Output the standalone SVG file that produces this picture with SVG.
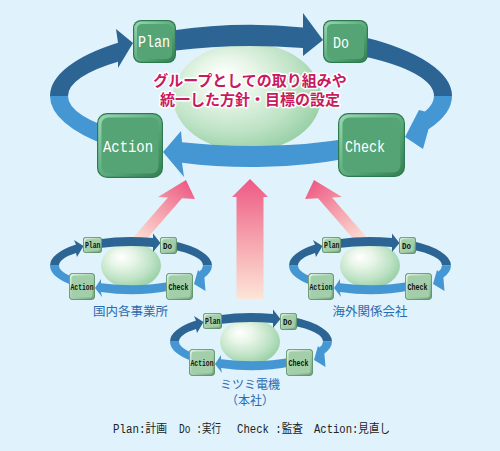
<svg xmlns="http://www.w3.org/2000/svg" width="500" height="451" viewBox="0 0 500 451">
<defs>
<style>
.dk{fill:#2c6594}
.lt{fill:#4597d3}
.bo{fill:#2e7a4f}
.bi{fill:#55a475}
.so{fill:#5d8d67}
.si{fill:#a2cfaa}
.bt{font-family:"Liberation Mono","DejaVu Sans Mono",monospace;font-size:16px;fill:#ffffff}
.st{font-family:"Liberation Mono","DejaVu Sans Mono",monospace;font-size:9.5px;fill:#111111;font-weight:bold}
.goal{font-family:"Noto Sans CJK JP","Noto Sans",sans-serif;font-size:15px;font-weight:bold;fill:#c81a5e;stroke:#ffffff;stroke-width:3;stroke-linejoin:round;paint-order:stroke;text-anchor:middle}
.lab{font-family:"Noto Sans CJK JP","Noto Sans",sans-serif;font-size:12.5px;fill:#2a6bb0;text-anchor:middle}
.lab2{font-family:"Noto Sans CJK JP","Noto Sans",sans-serif;font-size:12px;fill:#2a6bb0;text-anchor:middle}
.leg{font-family:"Liberation Mono","Noto Sans CJK JP",monospace;font-size:12px;fill:#222222}
</style>
<linearGradient id="bev" x1="0" y1="0" x2="1" y2="1">
<stop offset="0" stop-color="#9ad8b2"/>
<stop offset="0.5" stop-color="#5fae80"/>
<stop offset="1" stop-color="#357f53"/>
</linearGradient>
<linearGradient id="sbev" x1="0" y1="0" x2="1" y2="1">
<stop offset="0" stop-color="#dff2e2"/>
<stop offset="0.5" stop-color="#a8d3ae"/>
<stop offset="1" stop-color="#74a37e"/>
</linearGradient>
<radialGradient id="egg" cx="0.42" cy="0.4" r="0.64" fx="0.33" fy="0.3">
<stop offset="0" stop-color="#ffffff"/>
<stop offset="0.3" stop-color="#e9f6e9"/>
<stop offset="0.7" stop-color="#bfe3c6"/>
<stop offset="1" stop-color="#96cfa5"/>
</radialGradient>
<linearGradient id="pc" gradientUnits="userSpaceOnUse" x1="250" y1="180" x2="250" y2="300">
<stop offset="0" stop-color="#ee5a85"/>
<stop offset="0.5" stop-color="#f6a3ae"/>
<stop offset="1" stop-color="#fde6d8"/>
</linearGradient>
<linearGradient id="pl" gradientUnits="userSpaceOnUse" x1="186" y1="180" x2="135" y2="244">
<stop offset="0" stop-color="#ee5a85"/>
<stop offset="0.5" stop-color="#f6a3ae"/>
<stop offset="1" stop-color="#fde6d8"/>
</linearGradient>
<linearGradient id="pr" gradientUnits="userSpaceOnUse" x1="314" y1="180" x2="365" y2="244">
<stop offset="0" stop-color="#ee5a85"/>
<stop offset="0.5" stop-color="#f6a3ae"/>
<stop offset="1" stop-color="#fde6d8"/>
</linearGradient>
</defs>
<rect width="500" height="451" fill="#e0f2fb"/>

<g id="connectors">
<g id="feedback-arrows">
<polygon fill="url(#pc)" points="250,179 268,197 263.5,197 263.5,299 236.5,299 236.5,197 232,197"/>
<polygon fill="url(#pl)" points="186,180 195,199 182,198.3 142.2,244 127.5,244 168,197.5 158,197"/>
<polygon fill="url(#pr)" points="314,180 305,199 318,198.3 357.8,244 372.5,244 332,197.5 342,197"/>
</g>
</g>

<g id="goal">
<ellipse cx="247" cy="97" rx="74" ry="54" fill="url(#egg)"/>
</g>

<g id="main-cycle-arrows">
<path class="dk" d="M172.4,30.6 A201,71 0 0 1 303,27.4 L303,13 L323,40 L303,56 L303,48.1 A183,50 0 0 0 173.7,50.7 Z"/>
<path class="dk" d="M363.4,37.1 A201,71 0 0 1 452,96 L434,96 A183,50 0 0 0 363.7,56.6 Z"/>
<path class="lt" d="M452,96 A201,71 0 0 1 428.5,129.3 L423,149 L405,137 L419,110 L425,111.5 A183,50 0 0 0 434,96 Z"/>
<path class="lt" d="M345.3,158.7 A201,71 0 0 1 182,162.7 L184,177 L163,152 L181,131 L182,142.3 A183,50 0 0 0 348,138.4 Z"/>
<path class="lt" d="M106.5,145.3 A201,71 0 0 1 50,96 L68,96 A183,50 0 0 0 123.9,132 Z"/>
<path class="dk" d="M50,96 A201,71 0 0 1 118,42.8 L116,29 L133,43 L118,68 L118,61.7 A183,50 0 0 0 68,96 Z"/>
</g>

<g id="goal-text">
<text class="goal" x="250" y="86">グループとしての取り組みや</text>
<text class="goal" x="250" y="105">統一した方針・目標の設定</text>
</g>

<g id="plan">
<rect class="bo" x="133" y="20" width="43" height="43" rx="8"/>
<rect x="134.2" y="21.2" width="40.6" height="40.6" rx="7" fill="url(#bev)"/>
<rect class="bi" x="137" y="24" width="35" height="35" rx="5"/>
<text class="bt" x="138" y="47" textLength="32" lengthAdjust="spacingAndGlyphs">Plan</text>
</g>
<g id="do">
<rect class="bo" x="323" y="20" width="45" height="43" rx="8"/>
<rect x="324.2" y="21.2" width="42.6" height="40.6" rx="7" fill="url(#bev)"/>
<rect class="bi" x="327" y="24" width="37" height="35" rx="5"/>
<text class="bt" x="333" y="48" textLength="16" lengthAdjust="spacingAndGlyphs">Do</text>
</g>
<g id="action">
<rect class="bo" x="97" y="113" width="66" height="65" rx="10"/>
<rect x="98.2" y="114.2" width="63.6" height="62.6" rx="9" fill="url(#bev)"/>
<rect class="bi" x="101.5" y="117.5" width="57" height="56" rx="7"/>
<text class="bt" x="103" y="152" textLength="50" lengthAdjust="spacingAndGlyphs">Action</text>
</g>
<g id="check">
<rect class="bo" x="338" y="113" width="67" height="64" rx="10"/>
<rect x="339.2" y="114.2" width="64.6" height="61.6" rx="9" fill="url(#bev)"/>
<rect class="bi" x="342.5" y="117.5" width="58" height="55" rx="7"/>
<text class="bt" x="345" y="152" textLength="40" lengthAdjust="spacingAndGlyphs">Check</text>
</g>

<g id="site-domestic">
<ellipse cx="131" cy="265.5" rx="30" ry="22.5" fill="url(#egg)"/>
<g class="mini-arrows">
<path class="dk" d="M99.3,239.3 A81,28.5 0 0 1 153,238.1 L153,233.5 L160.5,243 L153,252 L153,246.9 A72,19.5 0 0 0 99.5,248 Z"/>
<path class="dk" d="M173.9,241.3 A81,28.5 0 0 1 212,265.5 L203,265.5 A72,19.5 0 0 0 172.3,249.5 Z"/>
<path class="lt" d="M212,265.5 A81,28.5 0 0 1 204.4,277.5 L205.5,291 L194,284 L198,270 L199.5,271.5 A72,19.5 0 0 0 203,265.5 Z"/>
<path class="lt" d="M171.5,290.2 A81,28.5 0 0 1 101,292 L102,297 L95,288 L101,279 L101,283.2 A72,19.5 0 0 0 172.3,281.5 Z"/>
<path class="lt" d="M71.8,285 A81,28.5 0 0 1 50,265.5 L59,265.5 A72,19.5 0 0 0 84.7,280.4 Z"/>
<path class="dk" d="M50,265.5 A81,28.5 0 0 1 76,244.6 L74,240 L83.5,246 L77,257 L76,252.9 A72,19.5 0 0 0 59,265.5 Z"/>
</g>
<g id="dom-plan"><rect class="so" x="83" y="237" width="19" height="16" rx="3"/><rect x="83.8" y="237.8" width="17.4" height="14.4" rx="2.5" fill="url(#sbev)"/><rect class="si" x="85.3" y="239.3" width="14.4" height="11.4" rx="2"/><text class="st" x="85" y="248" textLength="15.5" lengthAdjust="spacingAndGlyphs">Plan</text></g>
<g id="dom-do"><rect class="so" x="160" y="237" width="17" height="17" rx="3"/><rect x="160.8" y="237.8" width="15.4" height="15.4" rx="2.5" fill="url(#sbev)"/><rect class="si" x="162.3" y="239.3" width="12.4" height="12.4" rx="2"/><text class="st" x="163" y="249" textLength="9" lengthAdjust="spacingAndGlyphs">Do</text></g>
<g id="dom-action"><rect class="so" x="69" y="273" width="26" height="27" rx="4"/><rect x="69.8" y="273.8" width="24.4" height="25.4" rx="3.5" fill="url(#sbev)"/><rect class="si" x="71.5" y="275.5" width="21" height="22" rx="3"/><text class="st" x="70.5" y="290" textLength="23" lengthAdjust="spacingAndGlyphs">Action</text></g>
<g id="dom-check"><rect class="so" x="166" y="273" width="27" height="27" rx="4"/><rect x="166.8" y="273.8" width="25.4" height="25.4" rx="3.5" fill="url(#sbev)"/><rect class="si" x="168.5" y="275.5" width="22" height="22" rx="3"/><text class="st" x="168.5" y="290" textLength="20" lengthAdjust="spacingAndGlyphs">Check</text></g>
<text class="lab" x="130.5" y="316">国内各事業所</text>
</g>

<g id="site-overseas" transform="translate(239,0)">
<ellipse cx="131" cy="265.5" rx="30" ry="22.5" fill="url(#egg)"/>
<g class="mini-arrows">
<path class="dk" d="M99.3,239.3 A81,28.5 0 0 1 153,238.1 L153,233.5 L160.5,243 L153,252 L153,246.9 A72,19.5 0 0 0 99.5,248 Z"/>
<path class="dk" d="M173.9,241.3 A81,28.5 0 0 1 212,265.5 L203,265.5 A72,19.5 0 0 0 172.3,249.5 Z"/>
<path class="lt" d="M212,265.5 A81,28.5 0 0 1 204.4,277.5 L205.5,291 L194,284 L198,270 L199.5,271.5 A72,19.5 0 0 0 203,265.5 Z"/>
<path class="lt" d="M171.5,290.2 A81,28.5 0 0 1 101,292 L102,297 L95,288 L101,279 L101,283.2 A72,19.5 0 0 0 172.3,281.5 Z"/>
<path class="lt" d="M71.8,285 A81,28.5 0 0 1 50,265.5 L59,265.5 A72,19.5 0 0 0 84.7,280.4 Z"/>
<path class="dk" d="M50,265.5 A81,28.5 0 0 1 76,244.6 L74,240 L83.5,246 L77,257 L76,252.9 A72,19.5 0 0 0 59,265.5 Z"/>
</g>
<g id="ovs-plan"><rect class="so" x="83" y="237" width="19" height="16" rx="3"/><rect x="83.8" y="237.8" width="17.4" height="14.4" rx="2.5" fill="url(#sbev)"/><rect class="si" x="85.3" y="239.3" width="14.4" height="11.4" rx="2"/><text class="st" x="85" y="248" textLength="15.5" lengthAdjust="spacingAndGlyphs">Plan</text></g>
<g id="ovs-do"><rect class="so" x="160" y="237" width="17" height="17" rx="3"/><rect x="160.8" y="237.8" width="15.4" height="15.4" rx="2.5" fill="url(#sbev)"/><rect class="si" x="162.3" y="239.3" width="12.4" height="12.4" rx="2"/><text class="st" x="163" y="249" textLength="9" lengthAdjust="spacingAndGlyphs">Do</text></g>
<g id="ovs-action"><rect class="so" x="69" y="273" width="26" height="27" rx="4"/><rect x="69.8" y="273.8" width="24.4" height="25.4" rx="3.5" fill="url(#sbev)"/><rect class="si" x="71.5" y="275.5" width="21" height="22" rx="3"/><text class="st" x="70.5" y="290" textLength="23" lengthAdjust="spacingAndGlyphs">Action</text></g>
<g id="ovs-check"><rect class="so" x="166" y="273" width="27" height="27" rx="4"/><rect x="166.8" y="273.8" width="25.4" height="25.4" rx="3.5" fill="url(#sbev)"/><rect class="si" x="168.5" y="275.5" width="22" height="22" rx="3"/><text class="st" x="168.5" y="290" textLength="20" lengthAdjust="spacingAndGlyphs">Check</text></g>
<text class="lab" x="131" y="316">海外関係会社</text>
</g>

<g id="site-hq" transform="translate(120,76)">
<ellipse cx="130" cy="265.5" rx="30" ry="22.5" fill="url(#egg)"/>
<g class="mini-arrows">
<path class="dk" d="M99.3,239.3 A81,28.5 0 0 1 153,238.1 L153,233.5 L160.5,243 L153,252 L153,246.9 A72,19.5 0 0 0 99.5,248 Z"/>
<path class="dk" d="M173.9,241.3 A81,28.5 0 0 1 212,265.5 L203,265.5 A72,19.5 0 0 0 172.3,249.5 Z"/>
<path class="lt" d="M212,265.5 A81,28.5 0 0 1 204.4,277.5 L205.5,291 L194,284 L198,270 L199.5,271.5 A72,19.5 0 0 0 203,265.5 Z"/>
<path class="lt" d="M171.5,290.2 A81,28.5 0 0 1 101,292 L102,297 L95,288 L101,279 L101,283.2 A72,19.5 0 0 0 172.3,281.5 Z"/>
<path class="lt" d="M71.8,285 A81,28.5 0 0 1 50,265.5 L59,265.5 A72,19.5 0 0 0 84.7,280.4 Z"/>
<path class="dk" d="M50,265.5 A81,28.5 0 0 1 76,244.6 L74,240 L83.5,246 L77,257 L76,252.9 A72,19.5 0 0 0 59,265.5 Z"/>
</g>
<g id="hq-plan"><rect class="so" x="83" y="237" width="19" height="16" rx="3"/><rect x="83.8" y="237.8" width="17.4" height="14.4" rx="2.5" fill="url(#sbev)"/><rect class="si" x="85.3" y="239.3" width="14.4" height="11.4" rx="2"/><text class="st" x="85" y="248" textLength="15.5" lengthAdjust="spacingAndGlyphs">Plan</text></g>
<g id="hq-do"><rect class="so" x="160" y="237" width="17" height="17" rx="3"/><rect x="160.8" y="237.8" width="15.4" height="15.4" rx="2.5" fill="url(#sbev)"/><rect class="si" x="162.3" y="239.3" width="12.4" height="12.4" rx="2"/><text class="st" x="163" y="249" textLength="9" lengthAdjust="spacingAndGlyphs">Do</text></g>
<g id="hq-action"><rect class="so" x="69" y="273" width="26" height="27" rx="4"/><rect x="69.8" y="273.8" width="24.4" height="25.4" rx="3.5" fill="url(#sbev)"/><rect class="si" x="71.5" y="275.5" width="21" height="22" rx="3"/><text class="st" x="70.5" y="290" textLength="23" lengthAdjust="spacingAndGlyphs">Action</text></g>
<g id="hq-check"><rect class="so" x="166" y="273" width="27" height="27" rx="4"/><rect x="166.8" y="273.8" width="25.4" height="25.4" rx="3.5" fill="url(#sbev)"/><rect class="si" x="168.5" y="275.5" width="22" height="22" rx="3"/><text class="st" x="168.5" y="290" textLength="20" lengthAdjust="spacingAndGlyphs">Check</text></g>
<text class="lab2" x="130" y="313">ミツミ電機</text>
<text class="lab2" x="130" y="329">（本社）</text>
</g>

<g id="legend">
<text class="leg" x="113" y="433" textLength="54" lengthAdjust="spacingAndGlyphs">Plan:計画</text>
<text class="leg" x="179" y="433" textLength="42" lengthAdjust="spacingAndGlyphs">Do :実行</text>
<text class="leg" x="237" y="433" textLength="66" lengthAdjust="spacingAndGlyphs">Check :監査</text>
<text class="leg" x="314" y="433" textLength="76" lengthAdjust="spacingAndGlyphs">Action:見直し</text>
</g>
</svg>
